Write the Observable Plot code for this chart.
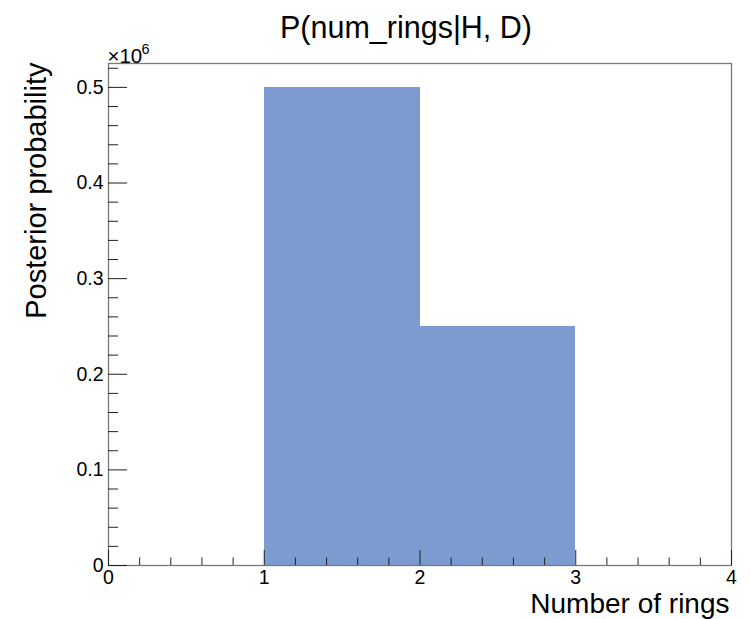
<!DOCTYPE html>
<html>
<head>
<meta charset="utf-8">
<script src="https://cdn.jsdelivr.net/npm/d3@7"></script>
<script src="https://cdn.jsdelivr.net/npm/@observablehq/plot@0.6"></script>
<style>
  html, body { margin: 0; padding: 0; background: #fff; }
  svg { display: block; }
</style>
</head>
<body>
<div id="chart"></div>
<script>
// Histogram bins (number of rings) and posterior values
const binLow = [0, 1, 2, 3];
const binHigh = [1, 2, 3, 4];
const posterior = [0, 500000, 250000, 0];

// Axis ticks
const xMajorTicks = [0, 1, 2, 3, 4];
const xMinorTicks = [0.2, 0.4, 0.6, 0.8, 1.2, 1.4, 1.6, 1.8, 2.2, 2.4, 2.6, 2.8, 3.2, 3.4, 3.6, 3.8];
const yMajorTicks = [0, 100000, 200000, 300000, 400000, 500000];
const yMinorTicks = [20000, 40000, 60000, 80000, 120000, 140000, 160000, 180000, 220000, 240000, 260000, 280000,
  320000, 340000, 360000, 380000, 420000, 440000, 460000, 480000, 520000];

const titleText = "P(num_rings|H, D)";
const xLabel = "Number of rings";
const yLabel = "Posterior probability";

const bins = binLow.map((lo, i) => ({lo, hi: binHigh[i], v: posterior[i]}));

const W = 750, H = 619;
const mL = 108, mR = 19, mT = 63, mB = 54;
const plotW = W - mL - mR, plotH = H - mT - mB;
const font = "'Liberation Sans', Arial, Helvetica, sans-serif";

const chart = Plot.plot({
  width: W,
  height: H,
  marginLeft: mL,
  marginRight: mR,
  marginTop: mT,
  marginBottom: mB,
  style: {fontFamily: font, background: "#fff", color: "#000"},
  x: {domain: [0, 4]},
  y: {domain: [0, 525000]},
  marks: [
    Plot.rectY(bins, {x1: "lo", x2: "hi", y: "v", fill: "#7b9bd1", inset: 0, shapeRendering: "crispEdges"}),
    Plot.frame({stroke: "#7a7a7a", strokeWidth: 1.3}),
    // ticks drawn inside the frame
    Plot.tickX(xMajorTicks, {x: d => d, stroke: "#222", strokeWidth: 1, insetTop: plotH - 15}),
    Plot.tickX(xMinorTicks, {x: d => d, stroke: "#222", strokeWidth: 1, insetTop: plotH - 7.5}),
    Plot.tickY(yMajorTicks, {y: d => d, stroke: "#222", strokeWidth: 1, insetRight: plotW - 19}),
    Plot.tickY(yMinorTicks, {y: d => d, stroke: "#222", strokeWidth: 1, insetRight: plotW - 10}),
    Plot.axisX({ticks: xMajorTicks, tickSize: 0, tickPadding: 5, fontSize: 19.5, label: null, tickFormat: d => String(d)}),
    Plot.axisY({ticks: yMajorTicks, tickSize: 0, tickPadding: 5, fontSize: 19.5, label: null, tickFormat: d => String(d / 1e6)}),
    // exponent marker
    Plot.text(["×10"], {frameAnchor: "top-left", textAnchor: "start", lineAnchor: "bottom", dx: -1, dy: -1, fontSize: 20.5}),
    Plot.text(["6"], {frameAnchor: "top-left", textAnchor: "start", lineAnchor: "bottom", dx: 33, dy: -10, fontSize: 14.5}),
    // title
    Plot.text([titleText], {frameAnchor: "top", textAnchor: "middle", lineAnchor: "bottom", dx: -14, dy: -26, fontSize: 30.5}),
    // x label
    Plot.text([xLabel], {frameAnchor: "bottom-right", textAnchor: "end", lineAnchor: "bottom", dx: -2, dy: 47, fontSize: 28}),
    // y label
    Plot.text([yLabel], {frameAnchor: "top-left", textAnchor: "end", lineAnchor: "bottom", rotate: -90, dx: -63, dy: -1, fontSize: 29})
  ]
});

document.getElementById("chart").appendChild(chart);
</script>
</body>
</html>
